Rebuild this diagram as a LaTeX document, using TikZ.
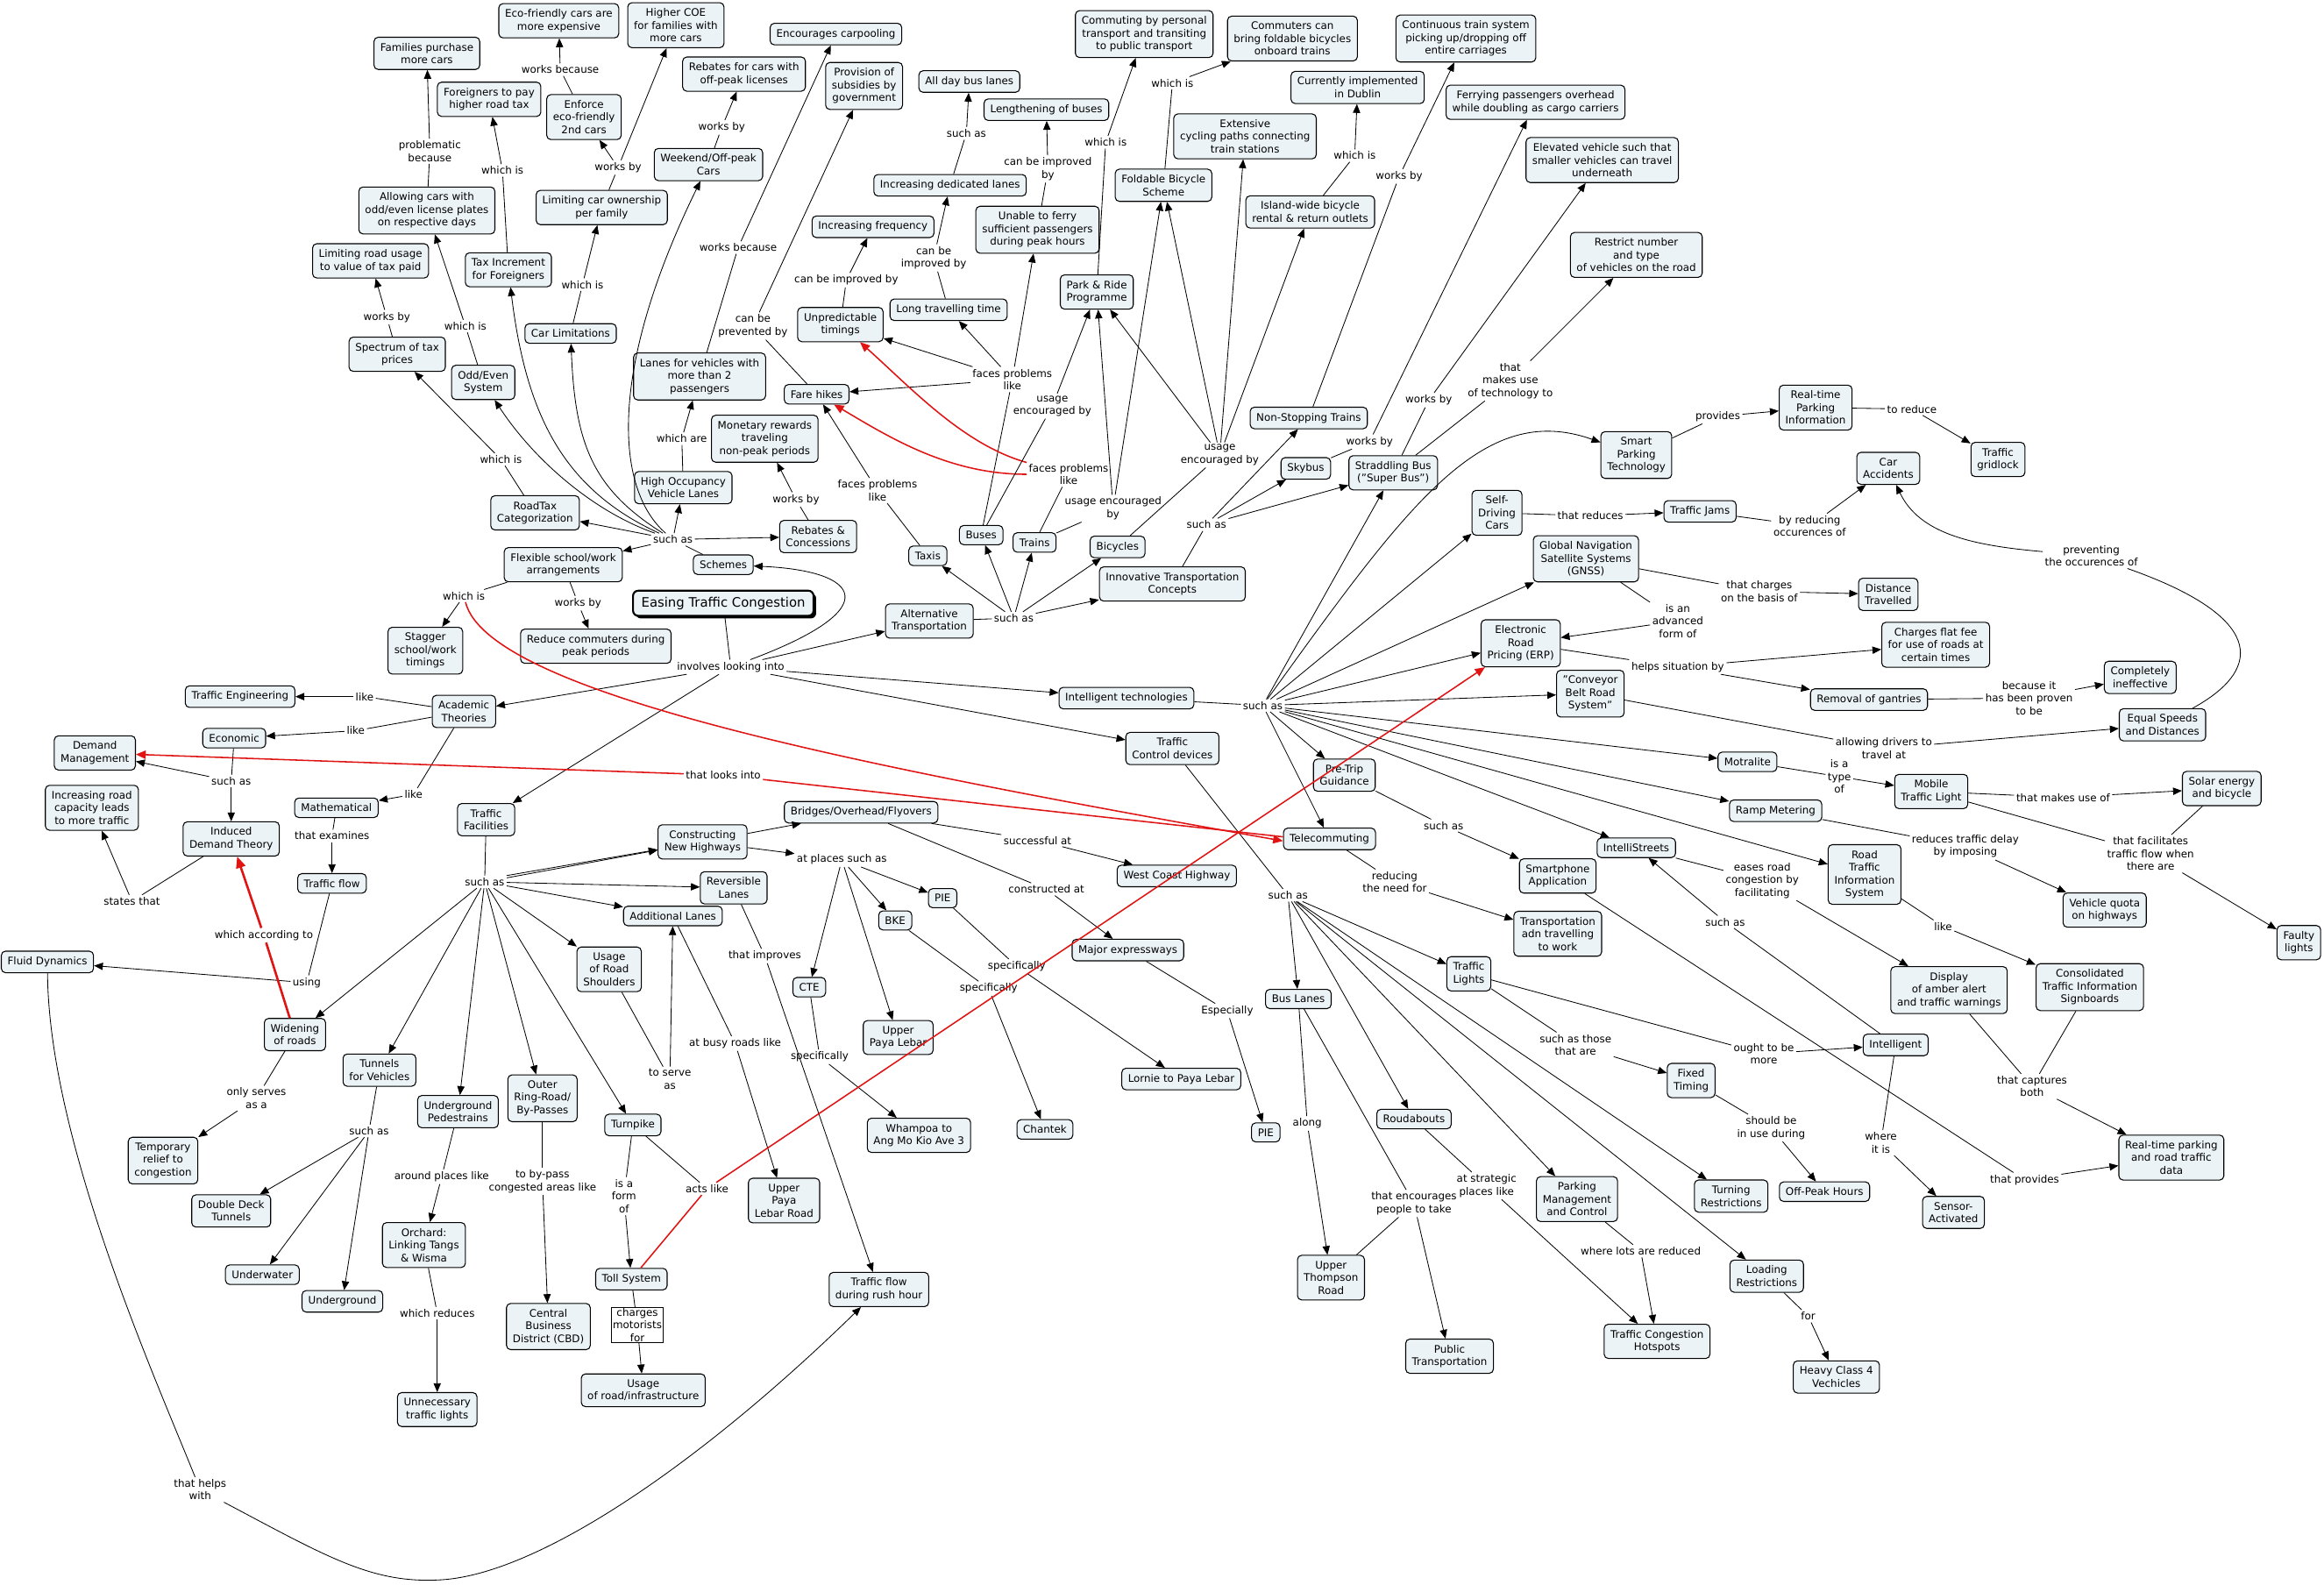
\documentclass[tikz,border=0pt]{standalone}
\usepackage{fontspec}
\setmainfont{DejaVu Sans}
\usetikzlibrary{arrows.meta,shadows}
\definecolor{conceptfill}{RGB}{236,243,246}
\definecolor{crossred}{RGB}{225,20,20}

\begin{document}
\begin{tikzpicture}[
    x=0.05cm, y=-0.05cm,
    font=\fontsize{10}{12.2}\selectfont,
    concept/.style={
        draw,
        rounded corners=4pt,
        line width=0.9pt,
        fill=conceptfill,
        align=center,
        inner xsep=6pt,
        inner ysep=5.5pt
    },
    root/.style={concept, line width=1.8pt, rounded corners=5pt,
        font=\fontsize{12.5}{15}\selectfont, inner xsep=8pt, inner ysep=6pt,
        drop shadow={shadow xshift=2.5pt, shadow yshift=-2.5pt, fill=black, opacity=1}},
    linkphrase/.style={align=center, inner sep=2pt},
    boxedlink/.style={linkphrase, draw, line width=0.6pt, inner sep=1pt},
    conn/.style={line width=0.7pt},
    connarrow/.style={conn, -{Triangle[length=8.5pt,width=7pt]}},
    crosslink/.style={draw=crossred, line width=1.3pt},
    crossarrow/.style={crosslink, -{Triangle[length=9.5pt,width=8pt]}},
    heavyred/.style={draw=crossred, line width=2.2pt},
    heavyredarrow/.style={heavyred, -{Triangle[length=11pt,width=9pt]}}
]
\path[use as bounding box, fill=white] (0,0) rectangle (1568,1069);

% ============================================================
% ROOT
% ============================================================
\node[root] (easing) at (488,407) {Easing Traffic Congestion};
\node[linkphrase] (involves) at (493,450) {involves looking into};

% ============================================================
% SCHEMES (top left)
% ============================================================
\node[concept] (famcars) at (288,36) {Families purchase\\more cars};
\node[concept] (ecoexp) at (377,14) {Eco-friendly cars are\\more expensive};
\node[concept] (highcoe) at (456,17) {Higher COE\\for families with\\more cars};
\node[concept] (carpool) at (564,23) {Encourages carpooling};
\node[concept] (forpay) at (330,67) {Foreigners to pay\\higher road tax};
\node[concept] (enforce) at (394,79) {Enforce\\eco-friendly\\2nd cars};
\node[concept] (rebpeak) at (502,50) {Rebates for cars with\\off-peak licenses};
\node[concept] (subsid) at (583,58) {Provision of\\subsidies by\\government};
\node[concept] (oddeven) at (288,142) {Allowing cars with\\odd/even license plates\\on respective days};
\node[concept] (limown) at (406,140) {Limiting car ownership\\per family};
\node[concept] (weekend) at (478,111) {Weekend/Off-peak\\Cars};
\node[concept] (limroad) at (250,176) {Limiting road usage\\to value of tax paid};
\node[concept] (taxinc) at (343,182) {Tax Increment\\for Foreigners};
\node[concept] (spectrum) at (268,239) {Spectrum of tax\\prices};
\node[concept] (oddsys) at (326,258) {Odd/Even\\System};
\node[concept] (carlim) at (385,225) {Car Limitations};
\node[concept] (lanestwo) at (472,254) {Lanes for vehicles with\\more than 2\\passengers};
\node[concept] (hov) at (461,329) {High Occupancy\\Vehicle Lanes};
\node[concept] (monetary) at (516,296) {Monetary rewards\\traveling\\non-peak periods};
\node[concept] (rebates) at (552,362) {Rebates \&\\Concessions};
\node[concept] (schemes) at (488,381) {Schemes};
\node[concept] (roadtax) at (361,346) {RoadTax\\Categorization};
\node[concept] (flexible) at (380,381) {Flexible school/work\\arrangements};
\node[concept] (stagger) at (287,439) {Stagger\\school/work\\timings};
\node[concept] (reducecomm) at (402,436) {Reduce commuters during\\peak periods};

\node[linkphrase] (probBecause) at (290,102) {problematic\\because};
\node[linkphrase] (taxWhich) at (339,115) {which is};
\node[linkphrase] (ecoBecause) at (378,47) {works because};
\node[linkphrase] (ownWorks) at (417,113) {works by};
\node[linkphrase] (limWhich) at (393,192) {which is};
\node[linkphrase] (specWorks) at (261,214) {works by};
\node[linkphrase] (oddWhich) at (314,220) {which is};
\node[linkphrase] (taxcatWhich) at (338,310) {which is};
\node[linkphrase] (weekendWorks) at (487,86) {works by};
\node[linkphrase] (poolBecause) at (498,167) {works because};
\node[linkphrase] (hovWhich) at (460,296) {which are};
\node[linkphrase] (rebWorks) at (537,337) {works by};
\node[linkphrase] (schemesSuch) at (454,364) {such as};
\node[linkphrase] (flexWhich) at (313,402) {which is};
\node[linkphrase] (flexWorks) at (390,407) {works by};

\draw[conn] (oddeven) -- (probBecause);
\draw[connarrow] (probBecause) -- (famcars);
\draw[conn] (taxinc) -- (taxWhich);
\draw[connarrow] (taxWhich) -- (forpay);
\draw[conn] (enforce) -- (ecoBecause);
\draw[connarrow] (ecoBecause) -- (ecoexp);
\draw[conn] (limown) -- (ownWorks);
\draw[connarrow] (ownWorks) -- (enforce);
\draw[connarrow] (ownWorks) -- (highcoe);
\draw[conn] (carlim) -- (limWhich);
\draw[connarrow] (limWhich) -- (limown);
\draw[conn] (spectrum) -- (specWorks);
\draw[connarrow] (specWorks) -- (limroad);
\draw[conn] (oddsys) -- (oddWhich);
\draw[connarrow] (oddWhich) -- (oddeven);
\draw[conn] (roadtax) -- (taxcatWhich);
\draw[connarrow] (taxcatWhich) -- (spectrum);
\draw[conn] (weekend) -- (weekendWorks);
\draw[connarrow] (weekendWorks) -- (rebpeak);
\draw[conn] (lanestwo) -- (poolBecause);
\draw[connarrow] (poolBecause) -- (carpool);
\draw[conn] (hov) -- (hovWhich);
\draw[connarrow] (hovWhich) -- (lanestwo);
\draw[conn] (rebates) -- (rebWorks);
\draw[connarrow] (rebWorks) -- (monetary);

\draw[connarrow] (involves) .. controls (600,410) and (580,385) .. (schemes);
\draw[conn] (schemes) -- (schemesSuch);
\draw[connarrow] (schemesSuch) -- (roadtax);
\draw[connarrow] (schemesSuch) -- (flexible);
\draw[connarrow] (schemesSuch) -- (rebates);
\draw[connarrow] (schemesSuch) -- (hov);
\draw[connarrow] (schemesSuch) .. controls (415,330) and (410,250) .. (weekend);
\draw[connarrow] (schemesSuch) .. controls (400,330) and (388,300) .. (carlim);
\draw[connarrow] (schemesSuch) .. controls (380,330) and (355,280) .. (taxinc);
\draw[connarrow] (schemesSuch) .. controls (400,345) and (360,310) .. (oddsys);

\draw[conn] (flexible) -- (flexWhich);
\draw[connarrow] (flexWhich) -- (stagger);
\draw[conn] (flexible) -- (flexWorks);
\draw[connarrow] (flexWorks) -- (reducecomm);

% ============================================================
% ALTERNATIVE TRANSPORTATION (top middle)
% ============================================================
\node[concept] (farehikes) at (551,266) {Fare hikes};
\node[concept] (unpred) at (567,219) {Unpredictable\\timings};
\node[concept] (incfreq) at (589,153) {Increasing frequency};
\node[concept] (longtime) at (640,209) {Long travelling time};
\node[concept] (incdl) at (641,125) {Increasing dedicated lanes};
\node[concept] (alldaybus) at (654,55) {All day bus lanes};
\node[concept] (lengthbus) at (706,74) {Lengthening of buses};
\node[concept] (unferry) at (700,155) {Unable to ferry\\sufficient passengers\\during peak hours};
\node[concept] (commute) at (772,23) {Commuting by personal\\transport and transiting\\to public transport};
\node[concept] (parkride) at (740,197) {Park \& Ride\\Programme};
\node[concept] (foldable) at (785,125) {Foldable Bicycle\\Scheme};
\node[concept] (foldbr) at (872,26) {Commuters can\\bring foldable bicycles\\onboard trains};
\node[concept] (cycling) at (840,92) {Extensive\\cycling paths connecting\\train stations};
\node[concept] (dublin) at (916,59) {Currently implemented\\in Dublin};
\node[concept] (islandbike) at (884,143) {Island-wide bicycle\\rental \& return outlets};
\node[concept] (conttrain) at (989,26) {Continuous train system\\picking up/dropping off\\entire carriages};
\node[concept] (ferrying) at (1036,69) {Ferrying passengers overhead\\while doubling as cargo carriers};
\node[concept] (elevated) at (1081,108) {Elevated vehicle such that\\smaller vehicles can travel\\underneath};
\node[concept] (restrict) at (1104,172) {Restrict number\\and type\\of vehicles on the road};
\node[concept] (nonstop) at (883,282) {Non-Stopping Trains};
\node[concept] (skybus) at (881,316) {Skybus};
\node[concept] (straddle) at (940,319) {Straddling Bus\\("Super Bus")};
\node[concept] (taxis) at (626,375) {Taxis};
\node[concept] (buses) at (662,361) {Buses};
\node[concept] (trains) at (698,366) {Trains};
\node[concept] (bicycles) at (754,369) {Bicycles};
\node[concept] (innovative) at (791,394) {Innovative Transportation\\Concepts};
\node[concept] (alttrans) at (627,419) {Alternative\\Transportation};

\node[linkphrase] (prevented) at (508,220) {can be\\prevented by};
\node[linkphrase] (unpredImp) at (571,189) {can be improved by};
\node[linkphrase] (longImp) at (630,174) {can be\\improved by};
\node[linkphrase] (dlSuch) at (652,90) {such as};
\node[linkphrase] (ferryImp) at (707,114) {can be improved\\by};
\node[linkphrase] (busFaces) at (683,256) {faces problems\\like};
\node[linkphrase] (taxiFaces) at (592,331) {faces problems\\like};
\node[linkphrase] (trainFaces) at (721,320) {faces problems\\like};
\node[linkphrase] (busUsage) at (710,274) {usage\\encouraged by};
\node[linkphrase] (trainUsage) at (751,343) {usage encouraged\\by};
\node[linkphrase] (bikeUsage) at (823,307) {usage\\encouraged by};
\node[linkphrase] (parkWhich) at (746,96) {which is};
\node[linkphrase] (foldWhich) at (791,56) {which is};
\node[linkphrase] (islandWhich) at (914,105) {which is};
\node[linkphrase] (altSuch) at (684,417) {such as};
\node[linkphrase] (innoSuch) at (814,354) {such as};
\node[linkphrase] (nonstopWorks) at (944,119) {works by};
\node[linkphrase] (skybusWorks) at (924,298) {works by};
\node[linkphrase] (straddleWorks) at (964,270) {works by};
\node[linkphrase] (techUse) at (1019,257) {that\\makes use\\of technology to};

\draw[conn] (farehikes) -- (prevented);
\draw[connarrow] (prevented) -- (subsid);
\draw[conn] (unpred) -- (unpredImp);
\draw[connarrow] (unpredImp) -- (incfreq);
\draw[conn] (longtime) -- (longImp);
\draw[connarrow] (longImp) -- (incdl);
\draw[conn] (incdl) -- (dlSuch);
\draw[connarrow] (dlSuch) -- (alldaybus);
\draw[conn] (unferry) -- (ferryImp);
\draw[connarrow] (ferryImp) -- (lengthbus);
\draw[conn] (buses) -- (busFaces);
\draw[connarrow] (busFaces) -- (unpred);
\draw[connarrow] (busFaces) -- (farehikes);
\draw[connarrow] (busFaces) -- (longtime);
\draw[connarrow] (busFaces) -- (unferry);
\draw[conn] (taxis) -- (taxiFaces);
\draw[connarrow] (taxiFaces) -- (farehikes);
\draw[conn] (trains) -- (trainFaces);
\draw[crossarrow] (trainFaces) .. controls (650,300) and (615,262) .. (unpred);
\draw[crossarrow] (trainFaces) .. controls (640,320) and (600,295) .. (farehikes);
\draw[conn] (buses) -- (busUsage);
\draw[connarrow] (busUsage) -- (parkride);
\draw[conn] (trains) -- (trainUsage);
\draw[connarrow] (trainUsage) -- (parkride);
\draw[connarrow] (trainUsage) -- (foldable);
\draw[conn] (bicycles) -- (bikeUsage);
\draw[connarrow] (bikeUsage) -- (parkride);
\draw[connarrow] (bikeUsage) -- (foldable);
\draw[connarrow] (bikeUsage) -- (cycling);
\draw[connarrow] (bikeUsage) -- (islandbike);
\draw[conn] (parkride) -- (parkWhich);
\draw[connarrow] (parkWhich) -- (commute);
\draw[conn] (foldable) -- (foldWhich);
\draw[connarrow] (foldWhich) -- (foldbr);
\draw[conn] (islandbike) -- (islandWhich);
\draw[connarrow] (islandWhich) -- (dublin);

\draw[connarrow] (involves) -- (alttrans);
\draw[conn] (alttrans) -- (altSuch);
\draw[connarrow] (altSuch) -- (taxis);
\draw[connarrow] (altSuch) -- (buses);
\draw[connarrow] (altSuch) -- (trains);
\draw[connarrow] (altSuch) -- (bicycles);
\draw[connarrow] (altSuch) -- (innovative);
\draw[conn] (innovative) -- (innoSuch);
\draw[connarrow] (innoSuch) -- (nonstop);
\draw[connarrow] (innoSuch) -- (skybus);
\draw[connarrow] (innoSuch) -- (straddle);
\draw[conn] (nonstop) -- (nonstopWorks);
\draw[connarrow] (nonstopWorks) -- (conttrain);
\draw[conn] (skybus) -- (skybusWorks);
\draw[connarrow] (skybusWorks) -- (ferrying);
\draw[conn] (straddle) -- (straddleWorks);
\draw[connarrow] (straddleWorks) -- (elevated);
\draw[conn] (straddle) -- (techUse);
\draw[connarrow] (techUse) -- (restrict);

% ============================================================
% INTELLIGENT TECHNOLOGIES (right)
% ============================================================
\node[concept] (inteltech) at (760,471) {Intelligent technologies};
\node[concept] (smartpark) at (1104,307) {Smart\\Parking\\Technology};
\node[concept] (rtparkinfo) at (1225,275) {Real-time\\Parking\\Information};
\node[concept] (gridlock) at (1348,310) {Traffic\\gridlock};
\node[concept] (caracc) at (1274,316) {Car\\Accidents};
\node[concept] (selfdriving) at (1010,346) {Self-\\Driving\\Cars};
\node[concept] (trafficjams) at (1147,345) {Traffic Jams};
\node[concept] (gnss) at (1070,377) {Global Navigation\\Satellite Systems\\(GNSS)};
\node[concept] (disttrav) at (1274,401) {Distance\\Travelled};
\node[concept] (erp) at (1026,434) {Electronic\\Road\\Pricing (ERP)};
\node[concept] (flatfee) at (1306,435) {Charges flat fee\\for use of roads at\\certain times};
\node[concept] (conveyor) at (1073,468) {"Conveyor\\Belt Road\\System"};
\node[concept] (gantries) at (1261,472) {Removal of gantries};
\node[concept] (ineffective) at (1444,457) {Completely\\ineffective};
\node[concept] (equalspeed) at (1459,489) {Equal Speeds\\and Distances};
\node[concept] (motralite) at (1179,514) {Motralite};
\node[concept] (mobilelight) at (1303,534) {Mobile\\Traffic Light};
\node[concept] (solar) at (1499,532) {Solar energy\\and bicycle};
\node[concept] (ramp) at (1198,547) {Ramp Metering};
\node[concept] (rtis) at (1258,590) {Road\\Traffic\\Information\\System};
\node[concept] (intellistreets) at (1104,572) {IntelliStreets};
\node[concept] (vehquota) at (1420,614) {Vehicle quota\\on highways};
\node[concept] (faulty) at (1551,636) {Faulty\\lights};
\node[concept] (display) at (1315,668) {Display\\of amber alert\\and traffic warnings};
\node[concept] (consolidated) at (1410,666) {Consolidated\\Traffic Information\\Signboards};
\node[concept] (intelligent) at (1279,705) {Intelligent};
\node[concept] (rtdata) at (1465,781) {Real-time parking\\and road traffic\\data};
\node[concept] (sensor) at (1318,818) {Sensor-\\Activated};
\node[concept] (pretrip) at (907,523) {Pre-Trip\\Guidance};
\node[concept] (telecom) at (897,566) {Telecommuting};
\node[concept] (smartphone) at (1051,591) {Smartphone\\Application};
\node[concept] (transadn) at (1051,630) {Transportation\\adn travelling\\to work};

\node[linkphrase] (techSuch) at (852,476) {such as};
\node[linkphrase] (provides) at (1159,281) {provides};
\node[linkphrase] (toReduce) at (1290,276) {to reduce};
\node[linkphrase] (reduces) at (1073,348) {that reduces};
\node[linkphrase] (byReducing) at (1221,355) {by reducing\\occurences of};
\node[linkphrase] (charges) at (1187,399) {that charges\\on the basis of};
\node[linkphrase] (advanced) at (1132,419) {is an\\advanced\\form of};
\node[linkphrase] (helps) at (1132,450) {helps situation by};
\node[linkphrase] (proven) at (1369,471) {because it\\has been proven\\to be};
\node[linkphrase] (allowing) at (1271,505) {allowing drivers to\\travel at};
\node[linkphrase] (preventing) at (1411,375) {preventing\\the occurences of};
\node[linkphrase] (typeOf) at (1241,524) {is a\\type\\of};
\node[linkphrase] (makesUse) at (1392,538) {that makes use of};
\node[linkphrase] (facilitates) at (1451,576) {that facilitates\\traffic flow when\\there are};
\node[linkphrase] (imposing) at (1326,571) {reduces traffic delay\\by imposing};
\node[linkphrase] (rtisLike) at (1311,625) {like};
\node[linkphrase] (eases) at (1189,594) {eases road\\congestion by\\facilitating};
\node[linkphrase] (intelSuch) at (1164,622) {such as};
\node[linkphrase] (captures) at (1371,733) {that captures\\both};
\node[linkphrase] (phoneProvides) at (1366,796) {that provides};
\node[linkphrase] (whereIs) at (1269,771) {where\\it is};
\node[linkphrase] (guideSuch) at (974,557) {such as};
\node[linkphrase] (needFor) at (941,595) {reducing\\the need for};

\draw[connarrow] (involves) -- (inteltech);
\draw[conn] (inteltech) -- (techSuch);
\draw[connarrow] (techSuch) -- (straddle);
\draw[connarrow] (techSuch) .. controls (950,340) and (1000,270) .. (smartpark);
\draw[connarrow] (techSuch) -- (selfdriving);
\draw[connarrow] (techSuch) -- (gnss);
\draw[connarrow] (techSuch) -- (erp);
\draw[connarrow] (techSuch) -- (conveyor);
\draw[connarrow] (techSuch) -- (motralite);
\draw[connarrow] (techSuch) -- (ramp);
\draw[connarrow] (techSuch) -- (rtis);
\draw[connarrow] (techSuch) -- (intellistreets);
\draw[connarrow] (techSuch) -- (pretrip);
\draw[connarrow] (techSuch) -- (telecom);

\draw[conn] (smartpark) -- (provides);
\draw[connarrow] (provides) -- (rtparkinfo);
\draw[conn] (rtparkinfo) -- (toReduce);
\draw[connarrow] (toReduce) -- (gridlock);
\draw[conn] (selfdriving) -- (reduces);
\draw[connarrow] (reduces) -- (trafficjams);
\draw[conn] (trafficjams) -- (byReducing);
\draw[connarrow] (byReducing) -- (caracc);
\draw[conn] (gnss) -- (charges);
\draw[connarrow] (charges) -- (disttrav);
\draw[conn] (gnss) -- (advanced);
\draw[connarrow] (advanced) -- (erp);
\draw[conn] (erp) -- (helps);
\draw[connarrow] (helps) -- (flatfee);
\draw[connarrow] (helps) -- (gantries);
\draw[conn] (gantries) -- (proven);
\draw[connarrow] (proven) -- (ineffective);
\draw[conn] (conveyor) -- (allowing);
\draw[connarrow] (allowing) -- (equalspeed);
\draw[conn] (equalspeed) .. controls (1530,450) and (1525,415) .. (preventing);
\draw[connarrow] (preventing) .. controls (1330,368) and (1295,360) .. (caracc);
\draw[conn] (motralite) -- (typeOf);
\draw[connarrow] (typeOf) -- (mobilelight);
\draw[conn] (mobilelight) -- (makesUse);
\draw[connarrow] (makesUse) -- (solar);
\draw[conn] (mobilelight) -- (facilitates);
\draw[conn] (solar) -- (facilitates);
\draw[connarrow] (facilitates) -- (faulty);
\draw[conn] (ramp) -- (imposing);
\draw[connarrow] (imposing) -- (vehquota);
\draw[conn] (rtis) -- (rtisLike);
\draw[connarrow] (rtisLike) -- (consolidated);
\draw[conn] (intellistreets) -- (eases);
\draw[connarrow] (eases) -- (display);
\draw[conn] (intelligent) -- (intelSuch);
\draw[connarrow] (intelSuch) -- (intellistreets);
\draw[conn] (display) -- (captures);
\draw[conn] (consolidated) -- (captures);
\draw[connarrow] (captures) -- (rtdata);
\draw[conn] (smartphone) -- (phoneProvides);
\draw[connarrow] (phoneProvides) -- (rtdata);
\draw[conn] (intelligent) -- (whereIs);
\draw[connarrow] (whereIs) -- (sensor);
\draw[conn] (pretrip) -- (guideSuch);
\draw[connarrow] (guideSuch) -- (smartphone);
\draw[conn] (telecom) -- (needFor);
\draw[connarrow] (needFor) -- (transadn);

% ============================================================
% TRAFFIC CONTROL DEVICES (bottom right)
% ============================================================
\node[concept] (tcdevices) at (791,505) {Traffic\\Control devices};
\node[concept] (trafficlights) at (991,657) {Traffic\\Lights};
\node[concept] (fixedtiming) at (1141,729) {Fixed\\Timing};
\node[concept] (offpeak) at (1231,804) {Off-Peak Hours};
\node[concept] (turning) at (1168,807) {Turning\\Restrictions};
\node[concept] (loading) at (1192,861) {Loading\\Restrictions};
\node[concept] (heavy) at (1239,929) {Heavy Class 4\\Vechicles};
\node[concept] (parking) at (1064,809) {Parking\\Management\\and Control};
\node[concept] (hotspots) at (1118,905) {Traffic Congestion\\Hotspots};
\node[concept] (roundabouts) at (954,755) {Roudabouts};
\node[concept] (pubtrans) at (978,915) {Public\\Transportation};
\node[concept] (upthompson) at (898,862) {Upper\\Thompson\\Road};
\node[concept] (buslanes) at (876,674) {Bus Lanes};

\node[linkphrase] (controlSuch) at (869,604) {such as};
\node[linkphrase] (oughtMore) at (1190,711) {ought to be\\more};
\node[linkphrase] (thoseAre) at (1063,705) {such as those\\that are};
\node[linkphrase] (inUse) at (1195,761) {should be\\in use during};
\node[linkphrase] (loadFor) at (1220,888) {for};
\node[linkphrase] (lotsReduced) at (1107,844) {where lots are reduced};
\node[linkphrase] (strategic) at (1003,800) {at strategic\\places like};
\node[linkphrase] (encourages) at (954,812) {that encourages\\people to take};
\node[linkphrase] (along) at (882,758) {along};

\draw[connarrow] (involves) -- (tcdevices);
\draw[conn] (tcdevices) -- (controlSuch);
\draw[connarrow] (controlSuch) -- (buslanes);
\draw[connarrow] (controlSuch) -- (trafficlights);
\draw[connarrow] (controlSuch) -- (roundabouts);
\draw[connarrow] (controlSuch) -- (parking);
\draw[connarrow] (controlSuch) -- (turning);
\draw[connarrow] (controlSuch) -- (loading);
\draw[conn] (trafficlights) -- (oughtMore);
\draw[connarrow] (oughtMore) -- (intelligent);
\draw[conn] (trafficlights) -- (thoseAre);
\draw[connarrow] (thoseAre) -- (fixedtiming);
\draw[conn] (fixedtiming) -- (inUse);
\draw[connarrow] (inUse) -- (offpeak);
\draw[conn] (loading) -- (loadFor);
\draw[connarrow] (loadFor) -- (heavy);
\draw[conn] (parking) -- (lotsReduced);
\draw[connarrow] (lotsReduced) -- (hotspots);
\draw[conn] (roundabouts) -- (strategic);
\draw[connarrow] (strategic) -- (hotspots);
\draw[conn] (buslanes) -- (encourages);
\draw[conn] (upthompson) -- (encourages);
\draw[connarrow] (encourages) -- (pubtrans);
\draw[conn] (buslanes) -- (along);
\draw[connarrow] (along) -- (upthompson);

% ============================================================
% TRAFFIC FACILITIES (bottom middle)
% ============================================================
\node[concept] (trafficfac) at (328,553) {Traffic\\Facilities};
\node[concept] (constructing) at (474,568) {Constructing\\New Highways};
\node[concept] (bridges) at (581,548) {Bridges/Overhead/Flyovers};
\node[concept] (reversible) at (495,599) {Reversible\\Lanes};
\node[concept] (additional) at (454,618) {Additional Lanes};
\node[concept] (piea) at (636,606) {PIE};
\node[concept] (bke) at (604,621) {BKE};
\node[concept] (cte) at (546,666) {CTE};
\node[concept] (upperpaya) at (606,700) {Upper\\Paya Lebar};
\node[concept] (whampoa) at (620,766) {Whampoa to\\Ang Mo Kio Ave 3};
\node[concept] (chantek) at (705,762) {Chantek};
\node[concept] (westcoast) at (794,591) {West Coast Highway};
\node[concept] (majorexp) at (761,641) {Major expressways};
\node[concept] (lornie) at (797,728) {Lornie to Paya Lebar};
\node[concept] (pieb) at (854,764) {PIE};
\node[concept] (shoulders) at (411,654) {Usage\\of Road\\Shoulders};
\node[concept] (turnpike) at (427,759) {Turnpike};
\node[concept] (upperpayard) at (529,810) {Upper\\Paya\\Lebar Road};
\node[concept] (tollsys) at (426,863) {Toll System};
\node[concept] (usageroad) at (434,938) {Usage\\of road/infrastructure};
\node[concept] (trafficrush) at (593,870) {Traffic flow\\during rush hour};
\node[concept] (widening) at (199,698) {Widening\\of roads};
\node[concept] (temprelief) at (110,783) {Temporary\\relief to\\congestion};
\node[concept] (tunnels) at (256,722) {Tunnels\\for Vehicles};
\node[concept] (doubledeck) at (156,817) {Double Deck\\Tunnels};
\node[concept] (underwater) at (177,860) {Underwater};
\node[concept] (underground) at (231,878) {Underground};
\node[concept] (undped) at (309,750) {Underground\\Pedestrains};
\node[concept] (outerring) at (366,741) {Outer\\Ring-Road/\\By-Passes};
\node[concept] (orchard) at (286,840) {Orchard:\\Linking Tangs\\\& Wisma};
\node[concept] (unnecessary) at (295,951) {Unnecessary\\traffic lights};
\node[concept] (cbd) at (370,895) {Central\\Business\\District (CBD)};

\node[linkphrase] (facSuch) at (327,595) {such as};
\node[linkphrase] (placesSuch) at (568,580) {at places such as};
\node[linkphrase] (successful) at (700,567) {successful at};
\node[linkphrase] (constructedAt) at (706,600) {constructed at};
\node[linkphrase] (especially) at (828,682) {Especially};
\node[linkphrase] (specPie) at (686,652) {specifically};
\node[linkphrase] (specBke) at (667,667) {specifically};
\node[linkphrase] (specCte) at (553,713) {specifically};
\node[linkphrase] (improves) at (516,645) {that improves};
\node[linkphrase] (busyRoads) at (496,704) {at busy roads like};
\node[linkphrase] (serveAs) at (452,728) {to serve\\as};
\node[linkphrase] (formOf) at (421,807) {is a\\form\\of};
\node[linkphrase] (actsLike) at (477,802) {acts like};
\node[boxedlink] (chargesFor) at (430,894) {charges\\motorists\\for};
\node[linkphrase] (bypass) at (366,797) {to by-pass\\congested areas like};
\node[linkphrase] (aroundPlaces) at (298,794) {around places like};
\node[linkphrase] (whichReduces) at (295,886) {which reduces};
\node[linkphrase] (tunnelSuch) at (249,763) {such as};
\node[linkphrase] (onlyServes) at (173,741) {only serves\\as a};

\draw[connarrow] (involves) -- (trafficfac);
\draw[conn] (trafficfac) -- (facSuch);
\draw[connarrow] (facSuch) -- (constructing);
\draw[connarrow] (facSuch.north east) -- (constructing);
\draw[connarrow] (facSuch) -- (reversible);
\draw[connarrow] (facSuch) -- (additional);
\draw[connarrow] (facSuch) -- (shoulders);
\draw[connarrow] (facSuch) -- (turnpike);
\draw[connarrow] (facSuch) -- (outerring);
\draw[connarrow] (facSuch) -- (undped);
\draw[connarrow] (facSuch) -- (tunnels);
\draw[connarrow] (facSuch) -- (widening);

\draw[connarrow] (constructing) -- (bridges);
\draw[connarrow] (constructing) -- (placesSuch);
\draw[connarrow] (placesSuch) -- (piea);
\draw[connarrow] (placesSuch) -- (bke);
\draw[connarrow] (placesSuch) -- (cte);
\draw[connarrow] (placesSuch) -- (upperpaya);
\draw[conn] (bridges) -- (successful);
\draw[connarrow] (successful) -- (westcoast);
\draw[conn] (bridges) -- (constructedAt);
\draw[connarrow] (constructedAt) -- (majorexp);
\draw[conn] (majorexp) -- (especially);
\draw[connarrow] (especially) -- (pieb);
\draw[conn] (piea) -- (specPie);
\draw[connarrow] (specPie) -- (lornie);
\draw[conn] (bke) -- (specBke);
\draw[connarrow] (specBke) -- (chantek);
\draw[conn] (cte) -- (specCte);
\draw[connarrow] (specCte) -- (whampoa);
\draw[conn] (reversible) -- (improves);
\draw[connarrow] (improves) -- (trafficrush);
\draw[conn] (additional) -- (busyRoads);
\draw[connarrow] (busyRoads) -- (upperpayard);
\draw[conn] (shoulders) -- (serveAs);
\draw[connarrow] (serveAs) -- (additional);
\draw[conn] (turnpike) -- (formOf);
\draw[connarrow] (formOf) -- (tollsys);
\draw[conn] (turnpike) -- (actsLike);
\draw[crosslink] (tollsys) -- (actsLike);
\draw[crossarrow] (actsLike) -- (erp);
\draw[conn] (tollsys) -- (chargesFor);
\draw[connarrow] (chargesFor) -- (usageroad);
\draw[conn] (outerring) -- (bypass);
\draw[connarrow] (bypass) -- (cbd);
\draw[conn] (undped) -- (aroundPlaces);
\draw[connarrow] (aroundPlaces) -- (orchard);
\draw[conn] (orchard) -- (whichReduces);
\draw[connarrow] (whichReduces) -- (unnecessary);
\draw[conn] (tunnels) -- (tunnelSuch);
\draw[connarrow] (tunnelSuch) -- (doubledeck);
\draw[connarrow] (tunnelSuch) -- (underwater);
\draw[connarrow] (tunnelSuch) -- (underground);
\draw[conn] (widening) -- (onlyServes);
\draw[connarrow] (onlyServes) -- (temprelief);

% ============================================================
% ACADEMIC THEORIES (left)
% ============================================================
\node[concept] (trafeng) at (162,470) {Traffic Engineering};
\node[concept] (academic) at (313,480) {Academic\\Theories};
\node[concept] (economic) at (158,498) {Economic};
\node[concept] (demand) at (64,508) {Demand\\Management};
\node[concept] (incroad) at (62,545) {Increasing road\\capacity leads\\to more traffic};
\node[concept] (induced) at (156,566) {Induced\\Demand Theory};
\node[concept] (mathematical) at (227,545) {Mathematical};
\node[concept] (trafficflow) at (224,596) {Traffic flow};
\node[concept] (fluid) at (32,649) {Fluid Dynamics};

\node[linkphrase] (likeEng) at (246,470) {like};
\node[linkphrase] (likeEco) at (240,493) {like};
\node[linkphrase] (likeMath) at (279,536) {like};
\node[linkphrase] (ecoSuch) at (156,527) {such as};
\node[linkphrase] (statesThat) at (89,608) {states that};
\node[linkphrase] (examines) at (224,564) {that examines};
\node[linkphrase] (using) at (207,663) {using};
\node[linkphrase] (accordingTo) at (178,631) {which according to};
\node[linkphrase] (helpsWith) at (135,1005) {that helps\\with};
\node[linkphrase] (looksInto) at (488,523) {that looks into};

\draw[conn] (easing) -- (involves);
\draw[connarrow] (involves) -- (academic);
\draw[conn] (academic) -- (likeEng);
\draw[connarrow] (likeEng) -- (trafeng);
\draw[conn] (academic) -- (likeEco);
\draw[connarrow] (likeEco) -- (economic);
\draw[conn] (academic) -- (likeMath);
\draw[connarrow] (likeMath) -- (mathematical);
\draw[conn] (economic) -- (ecoSuch);
\draw[connarrow] (ecoSuch) -- (induced);
\draw[connarrow] (ecoSuch) -- (demand);
\draw[conn] (induced) -- (statesThat);
\draw[connarrow] (statesThat) -- (incroad);
\draw[conn] (mathematical) -- (examines);
\draw[connarrow] (examines) -- (trafficflow);
\draw[conn] (trafficflow) -- (using);
\draw[connarrow] (using) -- (fluid);
\draw[conn] (fluid) .. controls (33,770) and (105,930) .. (helpsWith);
\draw[connarrow] (helpsWith) .. controls (220,1050) and (250,1068) .. (295,1066)
    .. controls (360,1064) and (470,990) .. (trafficrush);

% ============================================================
% CROSS LINKS (red)
% ============================================================
\draw[heavyred] (widening) -- (accordingTo);
\draw[heavyredarrow] (accordingTo) -- (induced);
\draw[crossarrow] (flexWhich) .. controls (330,470) and (600,520) .. ([yshift=-2pt]telecom.west);
\draw[crosslink] ([yshift=2pt]telecom.west) -- (looksInto);
\draw[crossarrow] (looksInto) -- (demand);

\end{tikzpicture}
\end{document}
